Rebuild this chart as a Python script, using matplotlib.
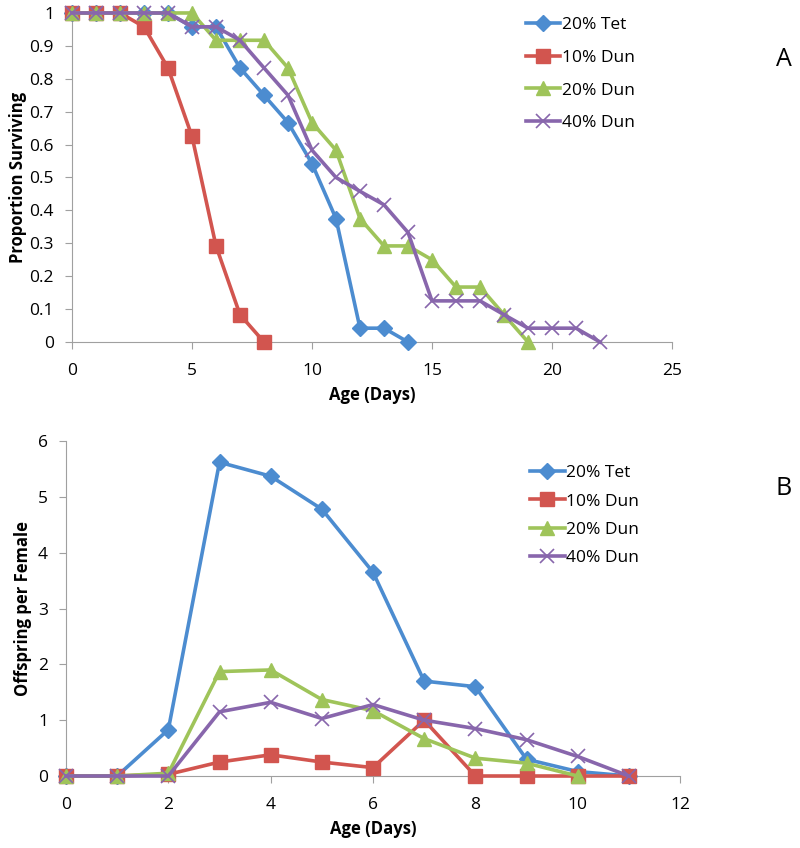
import matplotlib
matplotlib.use("Agg")
import matplotlib.pyplot as plt

plt.rcParams['font.family'] = ['Open Sans', 'DejaVu Sans']

# Panel A: survival
days_tet_a = list(range(0, 15))
surv_tet = [1, 1, 1, 1, 1, 0.958, 0.958, 0.833, 0.75, 0.667, 0.542, 0.375, 0.042, 0.042, 0]
days_d10_a = list(range(0, 9))
surv_d10 = [1, 1, 1, 0.958, 0.833, 0.625, 0.292, 0.083, 0]
days_d20_a = list(range(0, 20))
surv_d20 = [1, 1, 1, 1, 1, 1, 0.917, 0.917, 0.917, 0.833, 0.667, 0.583, 0.375,
            0.292, 0.292, 0.25, 0.167, 0.167, 0.083, 0]
days_d40_a = list(range(0, 23))
surv_d40 = [1, 1, 1, 1, 1, 0.958, 0.958, 0.917, 0.833, 0.75, 0.583, 0.5, 0.458,
            0.417, 0.333, 0.125, 0.125, 0.125, 0.083, 0.042, 0.042, 0.042, 0]

# Panel B: offspring
days_b = list(range(0, 12))
off_tet = [0, 0, 0.83, 5.62, 5.37, 4.78, 3.65, 1.70, 1.60, 0.30, 0.08, 0]
off_d10 = [0, 0, 0.03, 0.25, 0.38, 0.25, 0.15, 1.0, 0, 0, 0, 0]
days_d20_b = list(range(0, 11))
off_d20 = [0, 0, 0.05, 1.87, 1.90, 1.37, 1.17, 0.67, 0.32, 0.23, 0]
off_d40 = [0, 0, 0, 1.15, 1.32, 1.03, 1.28, 1.0, 0.85, 0.65, 0.35, 0]

labels = ['20% Tet', '10% Dun', '20% Dun', '40% Dun']
colors = ['#4C8CD0', '#D2554F', '#9FC45A', '#8866AC']
markers = ['D', 's', '^', 'x']
msizes = [8, 10, 10, 10]

fig = plt.figure(figsize=(8, 8.48), dpi=100)
axA = fig.add_axes([0.09, 0.5967, 0.75, 0.388])
axB = fig.add_axes([0.0825, 0.0849, 0.7675, 0.395])


def draw(ax, series, legend_y, spacing):
    for (x, y), lab, c, m, ms in zip(series, labels, colors, markers, msizes):
        ax.plot(x, y, color=c, lw=2.6, marker=m, markersize=ms, label=lab,
                markeredgewidth=1 if m != 'x' else 1.2, clip_on=False, zorder=3)
    for side in ['top', 'right']:
        ax.spines[side].set_visible(False)
    for side in ['left', 'bottom']:
        ax.spines[side].set_color('#A0A0A0')
    ax.tick_params(direction='out', length=5, color='#A0A0A0', labelsize=12.5)
    ax.tick_params(axis='x', pad=10)
    ax.tick_params(axis='y', pad=8)
    ax.legend(loc='upper left', bbox_to_anchor=(0.73, legend_y), frameon=False,
              fontsize=12.5, handlelength=2.0, handletextpad=0.1,
              labelspacing=spacing)


draw(axA, [(days_tet_a, surv_tet), (days_d10_a, surv_d10),
           (days_d20_a, surv_d20), (days_d40_a, surv_d40)], 1.035, 0.95)
axA.set_xlim(0, 25)
axA.set_ylim(0, 1)
axA.set_xticks(range(0, 26, 5))
axA.set_yticks([i / 10 for i in range(11)])
axA.set_yticklabels(['0'] + ['0.%d' % i for i in range(1, 10)] + ['1'])
axA.set_xlabel('Age (Days)', fontsize=12, fontweight='bold', labelpad=5)
axA.set_ylabel('Proportion Surviving', fontsize=12, fontweight='bold', labelpad=2)

draw(axB, [(days_b, off_tet), (days_b, off_d10),
           (days_d20_b, off_d20), (days_b, off_d40)], 0.975, 0.7)
axB.set_xlim(0, 12)
axB.set_ylim(0, 6)
axB.set_xticks(range(0, 13, 2))
axB.set_yticks(range(0, 7))
axB.set_xlabel('Age (Days)', fontsize=12, fontweight='bold', labelpad=5)
axB.set_ylabel('Offspring per Female', fontsize=12, fontweight='bold', labelpad=4)

fig.text(0.98, 0.93, 'A', fontsize=18, ha='center', va='center')
fig.text(0.98, 0.424, 'B', fontsize=18, ha='center', va='center')

fig.savefig('out.png', dpi=100)
